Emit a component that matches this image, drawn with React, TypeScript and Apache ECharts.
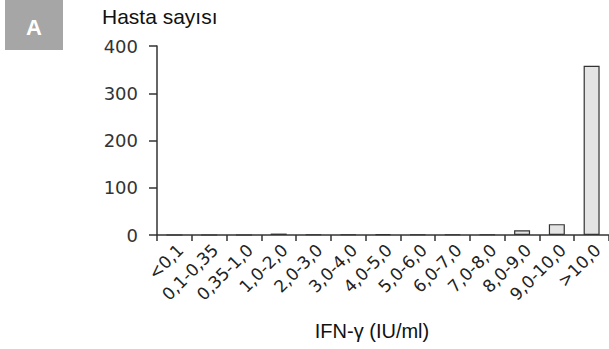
import React, { useEffect, useRef } from "react";
import * as echarts from "echarts";

const categories = ["<0,1", "0,1-0,35", "0,35-1,0", "1,0-2,0", "2,0-3,0", "3,0-4,0", "4,0-5,0", "5,0-6,0", "6,0-7,0", "7,0-8,0", "8,0-9,0", "9,0-10,0", ">10,0"];
const counts = [0, 0, 0, 3, 1, 1, 2, 1, 1, 1, 10, 23, 358];
const yTicks = { min: 0, max: 400, interval: 100 };

const sans = "'Liberation Sans', Arial, sans-serif";

export default function App() {
  const ref = useRef<HTMLDivElement>(null);
  useEffect(() => {
    if (!ref.current) return;
    const chart = echarts.init(ref.current, null, { renderer: "svg" });
    chart.setOption({
      animation: false,
      grid: { left: 157, top: 46, bottom: 114, width: 455 },
      graphic: [
        { type: "rect", shape: { x: 5, y: 0, width: 58, height: 50 }, style: { fill: "#a6a6a6" } },
        { type: "text", x: 34, y: 27, style: { text: "A", fill: "#fff", fontSize: 22, fontWeight: "bold", fontFamily: sans, align: "center", verticalAlign: "middle" } },
        { type: "text", x: 102, y: 16, style: { text: "Hasta sayısı", fill: "#111", fontSize: 21, fontFamily: sans, align: "left", verticalAlign: "middle" } },
        { type: "text", x: 372, y: 331, style: { text: "IFN-γ (IU/ml)", fill: "#111", fontSize: 20, fontFamily: sans, align: "center", verticalAlign: "middle" } },
      ],
      xAxis: {
        type: "category",
        data: categories,
        axisLine: { lineStyle: { color: "#333", width: 1.5 } },
        axisTick: { show: true, length: 6, lineStyle: { color: "#333", width: 1.5 } },
        axisLabel: { rotate: 45, interval: 0, fontFamily: "'DejaVu Sans'", fontSize: 17, color: "#222", margin: 6, verticalAlign: "top" },
      },
      yAxis: {
        type: "value",
        min: yTicks.min,
        max: yTicks.max,
        interval: yTicks.interval,
        splitLine: { show: false },
        axisLine: { show: true, lineStyle: { color: "#333", width: 1.5 } },
        axisTick: { show: true, length: 8, lineStyle: { color: "#333", width: 1.5 } },
        axisLabel: { fontFamily: "'DejaVu Sans'", fontSize: 18, color: "#333", margin: 19 },
      },
      series: [
        {
          type: "bar",
          data: counts,
          barWidth: 16,
          itemStyle: { color: "#e4e4e4", borderColor: "#333", borderWidth: 1.2 },
        },
      ],
    });
    return () => chart.dispose();
  }, []);
  return <div ref={ref} style={{ width: 609, height: 349, position: "absolute", left: 0, top: 0 }} />;
}
